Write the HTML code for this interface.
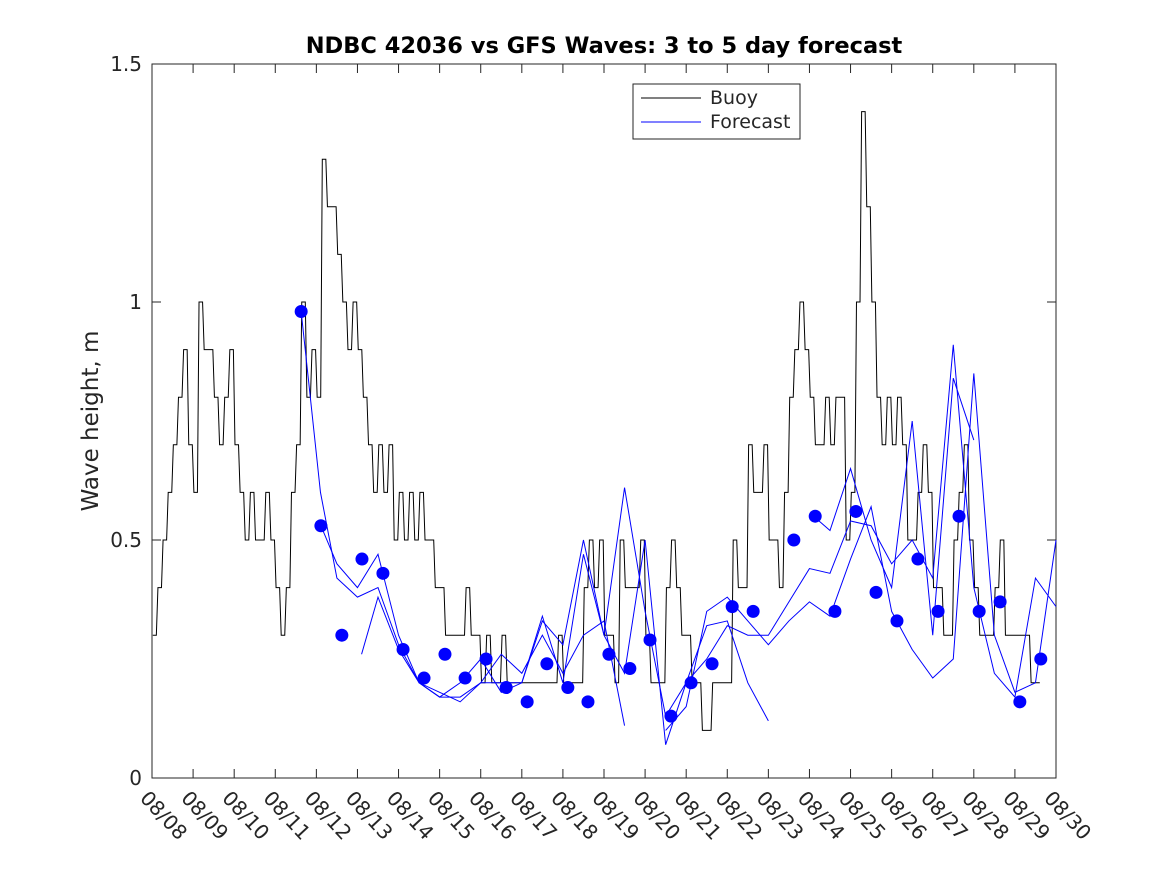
<!DOCTYPE html>
<html><head><meta charset="utf-8"><style>
body{margin:0;background:#fff;}
svg{display:block;font-family:"DejaVu Sans","Liberation Sans",sans-serif;}
</style></head><body>
<svg id="chart" width="1167" height="875" xmlns="http://www.w3.org/2000/svg">
<rect width="1167" height="875" fill="#fff"/>
<text x="604" y="53" text-anchor="middle" font-size="22.5" font-weight="bold">NDBC 42036 vs GFS Waves: 3 to 5 day forecast</text>
<text transform="translate(98,421) rotate(-90)" text-anchor="middle" font-size="23" fill="#262626">Wave height, m</text>
<g id="plot"></g>
<g>
<rect x="633" y="84" width="167" height="55" fill="#fff" stroke="#262626" stroke-width="1"/>
<line x1="641" y1="98" x2="701" y2="98" stroke="#000"/>
<text x="710" y="104" font-size="19" fill="#262626">Buoy</text>
<line x1="641" y1="122" x2="701" y2="122" stroke="#0000ff"/>
<text x="710" y="128" font-size="19" fill="#262626">Forecast</text>
</g>
</svg>
<script>
const tickLabels=["08/08","08/09","08/10","08/11","08/12","08/13","08/14","08/15","08/16","08/17","08/18","08/19","08/20","08/21","08/22","08/23","08/24","08/25","08/26","08/27","08/28","08/29","08/30"];
const yTicks=[0,0.5,1,1.5];
const yTickLabels=["0","0.5","1","1.5"];
const buoyStep=0.125;
const buoy=[0.3,0.4,0.5,0.6,0.7,0.8,0.9,0.7,0.6,1.0,0.9,0.9,0.8,0.7,0.8,0.9,
0.7,0.6,0.5,0.6,0.5,0.5,0.6,0.5,0.4,0.3,0.4,0.6,0.7,1.0,0.8,0.9,
0.8,1.3,1.2,1.2,1.1,1.0,0.9,1.0,0.9,0.8,0.7,0.6,0.7,0.6,0.7,0.5,
0.6,0.5,0.6,0.5,0.6,0.5,0.5,0.4,0.4,0.3,0.3,0.3,0.3,0.4,0.3,0.3,
0.2,0.3,0.2,0.2,0.3,0.2,0.2,0.2,0.2,0.2,0.2,0.2,0.2,0.2,0.2,0.3,
0.2,0.2,0.2,0.2,0.4,0.5,0.4,0.5,0.3,0.3,0.2,0.5,0.4,0.4,0.4,0.5,
0.3,0.2,0.2,0.2,0.4,0.5,0.4,0.3,0.3,0.2,0.2,0.1,0.1,0.2,0.2,0.2,
0.2,0.5,0.4,0.4,0.7,0.6,0.6,0.7,0.5,0.5,0.4,0.6,0.8,0.9,1.0,0.9,
0.8,0.7,0.7,0.8,0.7,0.8,0.8,0.5,0.6,1.0,1.4,1.2,1.0,0.8,0.7,0.8,
0.7,0.8,0.7,0.5,0.5,0.6,0.7,0.6,0.4,0.4,0.3,0.3,0.5,0.6,0.7,0.5,
0.4,0.3,0.3,0.3,0.4,0.5,0.3,0.3,0.3,0.3,0.3,0.2,0.2];
const dotDays=[3.63,4.11,4.62,5.11,5.62,6.11,6.62,7.13,7.62,8.13,8.62,9.13,9.61,10.12,10.61,11.12,11.63,12.12,12.63,13.12,13.63,14.12,14.63,15.62,16.14,16.62,17.13,17.62,18.13,18.64,19.13,19.64,20.13,20.64,21.12,21.63];
const dotVals=[0.98,0.53,0.30,0.46,0.43,0.27,0.21,0.26,0.21,0.25,0.19,0.16,0.24,0.19,0.16,0.26,0.23,0.29,0.13,0.20,0.24,0.36,0.35,0.50,0.55,0.35,0.56,0.39,0.33,0.46,0.35,0.55,0.35,0.37,0.16,0.25];
const f1Days=[3.63,4.1,4.5,5,5.5,6,6.5,7,7.5,8,8.5,9,9.5,10,10.5,11,11.5];
const f1Vals=[0.98,0.6,0.42,0.38,0.40,0.28,0.2,0.17,0.17,0.2,0.26,0.22,0.3,0.22,0.3,0.33,0.11];
const f2Days=[4.11,4.5,5,5.5,6,6.5,7,7.5,8,8.5,9,9.5,10,10.5,11,11.5,12,12.5,13,13.5,14,14.5,15];
const f2Vals=[0.53,0.45,0.40,0.47,0.3,0.2,0.18,0.16,0.2,0.2,0.2,0.33,0.28,0.5,0.3,0.61,0.35,0.13,0.2,0.32,0.33,0.2,0.12];
const f3Days=[5.1,5.5,6,6.5,7,7.5,8,8.5,9,9.5,10,10.5,11,11.5,12,12.5,13,13.5,14,14.5,15,15.5,16,16.5,17,17.5,18,18.5,19,19.5,20,20.5,21,21.5,22];
const f3Vals=[0.26,0.38,0.27,0.2,0.17,0.2,0.25,0.18,0.2,0.34,0.2,0.47,0.3,0.22,0.5,0.07,0.2,0.25,0.32,0.3,0.3,0.37,0.44,0.43,0.54,0.53,0.45,0.5,0.42,0.91,0.4,0.22,0.17,0.42,0.36];
const f4Days=[12.5,13,13.5,14,14.5,15,15.5,16,16.5,17,17.5,18,18.5,19,19.5,20,20.5,21,21.5,22];
const f4Vals=[0.1,0.15,0.35,0.38,0.33,0.28,0.33,0.37,0.34,0.46,0.57,0.35,0.27,0.21,0.25,0.85,0.3,0.18,0.2,0.5];
const f5Days=[16.1,16.5,17,17.5,18,18.5,19,19.5,20];
const f5Vals=[0.55,0.52,0.65,0.5,0.4,0.75,0.3,0.84,0.71];

const L=152,R=1056,T=64,B=778,NS="http://www.w3.org/2000/svg";
const xs=d=>L+d*(R-L)/22, ys=v=>B-v*(B-T)/1.5;
const g=document.getElementById('plot');
function mk(t,a){const e=document.createElementNS(NS,t);for(const k in a)e.setAttribute(k,a[k]);g.appendChild(e);return e;}
const frame=mk('rect',{x:L,y:T,width:R-L,height:B-T,fill:'none',stroke:'#262626','stroke-width':1});


tickLabels.forEach((t,i)=>{const x=xs(i);
 const tk=mk('path',{d:`M${x},${B}v-9M${x},${T}v9`,stroke:'#262626'});
 
 
 const tx=mk('text',{transform:`translate(${x-13},${B+21}) rotate(47)`,'font-size':20,fill:'#262626'});
 tx.textContent=t;
 
 
});
yTicks.forEach((v,i)=>{const y=ys(v);
 const tk=mk('path',{d:`M${L},${y}h9M${R},${y}h-9`,stroke:'#262626'});
 
 
 const tx=mk('text',{x:L-10,y:y+7,'text-anchor':'end','font-size':20,fill:'#262626'});
 tx.textContent=yTickLabels[i];
 
 
});
let pts=[];buoy.forEach((v,i)=>{const x0=xs(i*buoyStep),x1=xs((i+1)*buoyStep),y=ys(v);pts.push((x0+0.8)+','+y,(x1-0.8)+','+y);});
const bl=mk('polyline',{points:pts.join(' '),fill:'none',stroke:'#000','stroke-width':1});


[[f1Days,f1Vals],[f2Days,f2Vals],[f3Days,f3Vals],[f4Days,f4Vals],[f5Days,f5Vals]].forEach(([ds,vs],k)=>{
 const p=mk('polyline',{points:ds.map((x,i)=>xs(x)+','+ys(vs[i])).join(' '),fill:'none',stroke:'#0000ff','stroke-width':1});
 
 
});
dotDays.forEach((x,i)=>{const c=mk('circle',{cx:xs(x),cy:ys(dotVals[i]),r:6.5,fill:'#0000ff'});
 
 
});
</script>
</body></html>
